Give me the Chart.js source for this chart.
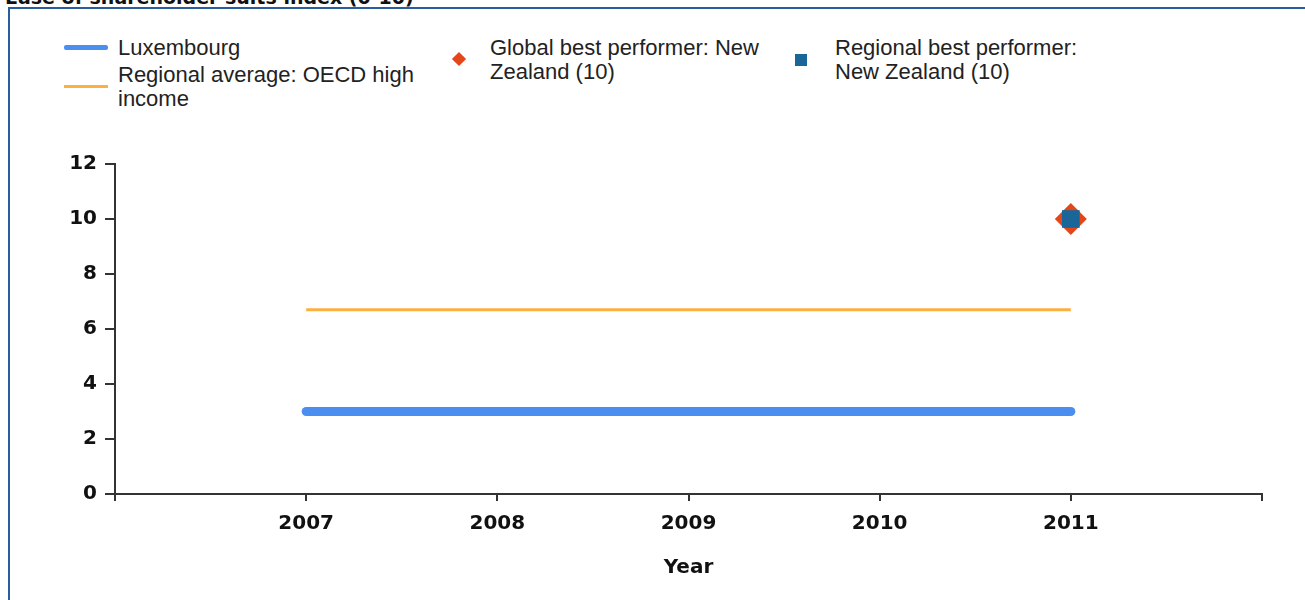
<!DOCTYPE html>
<html lang="en">
<head>
    <meta charset="UTF-8">
    <title>Ease of shareholder suits index (0-10)</title>
    <style>
        body {
            margin: 0;
            background: #ffffff;
            width: 1305px;
            height: 600px;
            overflow: hidden;
            position: relative;
            font-family: 'DejaVu Sans', sans-serif;
        }

        .title {
            position: absolute;
            left: 5px;
            top: -14px;
            font-weight: bold;
            font-size: 19px;
            color: #111;
            white-space: nowrap;
        }

        .panel {
            position: absolute;
            left: 8px;
            top: 7px;
            width: 1310px;
            height: 600px;
            border-top: 2px solid #2a5d9c;
            border-left: 2px solid #2a5d9c;
        }

        .legend {
            position: absolute;
            font-family: 'Liberation Sans', sans-serif;
            font-size: 22px;
            line-height: 24px;
            color: #222;
        }

        .legend .item {
            position: absolute;
            white-space: nowrap;
        }

        .swatch {
            position: absolute;
        }

        canvas {
            position: absolute;
            left: 0;
            top: 0;
        }
    </style>
</head>
<body>
    <div class="title">Ease of shareholder suits index (0-10)</div>
    <div class="panel"></div>

    <div class="legend">
        <div class="swatch" style="left:64px;top:45px;width:44px;height:5px;background:#4a8ff0;border-radius:2px;"></div>
        <div class="item" style="left:118px;top:36px;">Luxembourg</div>
        <div class="swatch" style="left:64px;top:85px;width:44px;height:3px;background:#fbb040;"></div>
        <div class="item" style="left:118px;top:63px;">Regional average: OECD high<br>income</div>

        <div class="swatch" style="left:454px;top:54px;width:10px;height:10px;background:#e4461a;transform:rotate(45deg);"></div>
        <div class="item" style="left:490px;top:36px;">Global best performer: New<br>Zealand (10)</div>

        <div class="swatch" style="left:795px;top:54px;width:12px;height:12px;background:#1b6699;"></div>
        <div class="item" style="left:835px;top:36px;">Regional best performer:<br>New Zealand (10)</div>
    </div>

    <canvas id="chart" width="1305" height="600"></canvas>

    <script src="https://cdn.jsdelivr.net/npm/chart.js"></script>
    <script>
        const years = [2007, 2008, 2009, 2010, 2011];
        const luxembourg = [3, 3, 3, 3, 3];
        const regionalAverage = [6.7, 6.7, 6.7, 6.7, 6.7];
        const globalBestYears = [2011];
        const globalBest = [10];
        const regionalBestYears = [2011];
        const regionalBest = [10];
        const yTicks = [0, 2, 4, 6, 8, 10, 12];

        function pts(xs, ys) {
            return xs.map((x, i) => ({ x: x, y: ys[i] }));
        }

        const axisColor = '#333333';
        const tickFont = { family: 'DejaVu Sans', size: 20, weight: 'bold' };

        new Chart(document.getElementById('chart'), {
            type: 'line',
            data: {
                datasets: [
                    {
                        label: 'Regional best performer: New Zealand (10)',
                        data: pts(regionalBestYears, regionalBest),
                        showLine: false,
                        pointStyle: 'rect',
                        pointRadius: 12.5,
                        backgroundColor: '#1b6699',
                        borderColor: '#1b6699',
                        borderWidth: 0,
                        order: 0
                    },
                    {
                        label: 'Global best performer: New Zealand (10)',
                        data: pts(globalBestYears, globalBest),
                        showLine: false,
                        pointStyle: 'rectRot',
                        pointRadius: 16,
                        backgroundColor: '#e4461a',
                        borderColor: '#e4461a',
                        borderWidth: 0,
                        order: 1
                    },
                    {
                        label: 'Regional average: OECD high income',
                        data: pts(years, regionalAverage),
                        borderColor: '#fbb040',
                        borderWidth: 3,
                        pointRadius: 0,
                        fill: false,
                        order: 2
                    },
                    {
                        label: 'Luxembourg',
                        data: pts(years, luxembourg),
                        borderColor: '#4a8ff0',
                        borderWidth: 9,
                        borderCapStyle: 'round',
                        pointRadius: 0,
                        fill: false,
                        order: 3
                    }
                ]
            },
            options: {
                responsive: false,
                animation: false,
                layout: {
                    padding: { left: 40, right: 43, top: 164, bottom: 20 }
                },
                plugins: {
                    legend: { display: false },
                    tooltip: { enabled: false }
                },
                scales: {
                    x: {
                        type: 'linear',
                        min: 2006,
                        max: 2012,
                        ticks: {
                            stepSize: 1,
                            color: '#111',
                            font: tickFont,
                            padding: 11,
                            maxRotation: 0,
                            callback: function(v) {
                                return years.includes(v) ? String(v) : '';
                            }
                        },
                        grid: {
                            drawOnChartArea: false,
                            drawTicks: true,
                            tickLength: 7,
                            color: axisColor,
                            lineWidth: 2
                        },
                        border: { display: true, color: axisColor, width: 2 },
                        title: {
                            display: true,
                            text: 'Year',
                            color: '#111',
                            font: { family: 'DejaVu Sans', size: 20, weight: 'bold' },
                            padding: { top: 16, bottom: 0 }
                        },
                        afterFit: function(scale) { scale.height = 86; }
                    },
                    y: {
                        min: 0,
                        max: 12,
                        afterBuildTicks: function(scale) {
                            scale.ticks = yTicks.map(v => ({ value: v }));
                        },
                        ticks: {
                            color: '#111',
                            font: tickFont,
                            padding: 8
                        },
                        grid: {
                            drawOnChartArea: false,
                            drawTicks: true,
                            tickLength: 10,
                            color: axisColor,
                            lineWidth: 2
                        },
                        border: { display: true, color: axisColor, width: 2 },
                        afterFit: function(scale) { scale.width = 75; }
                    }
                }
            }
        });
    </script>
</body>
</html>
